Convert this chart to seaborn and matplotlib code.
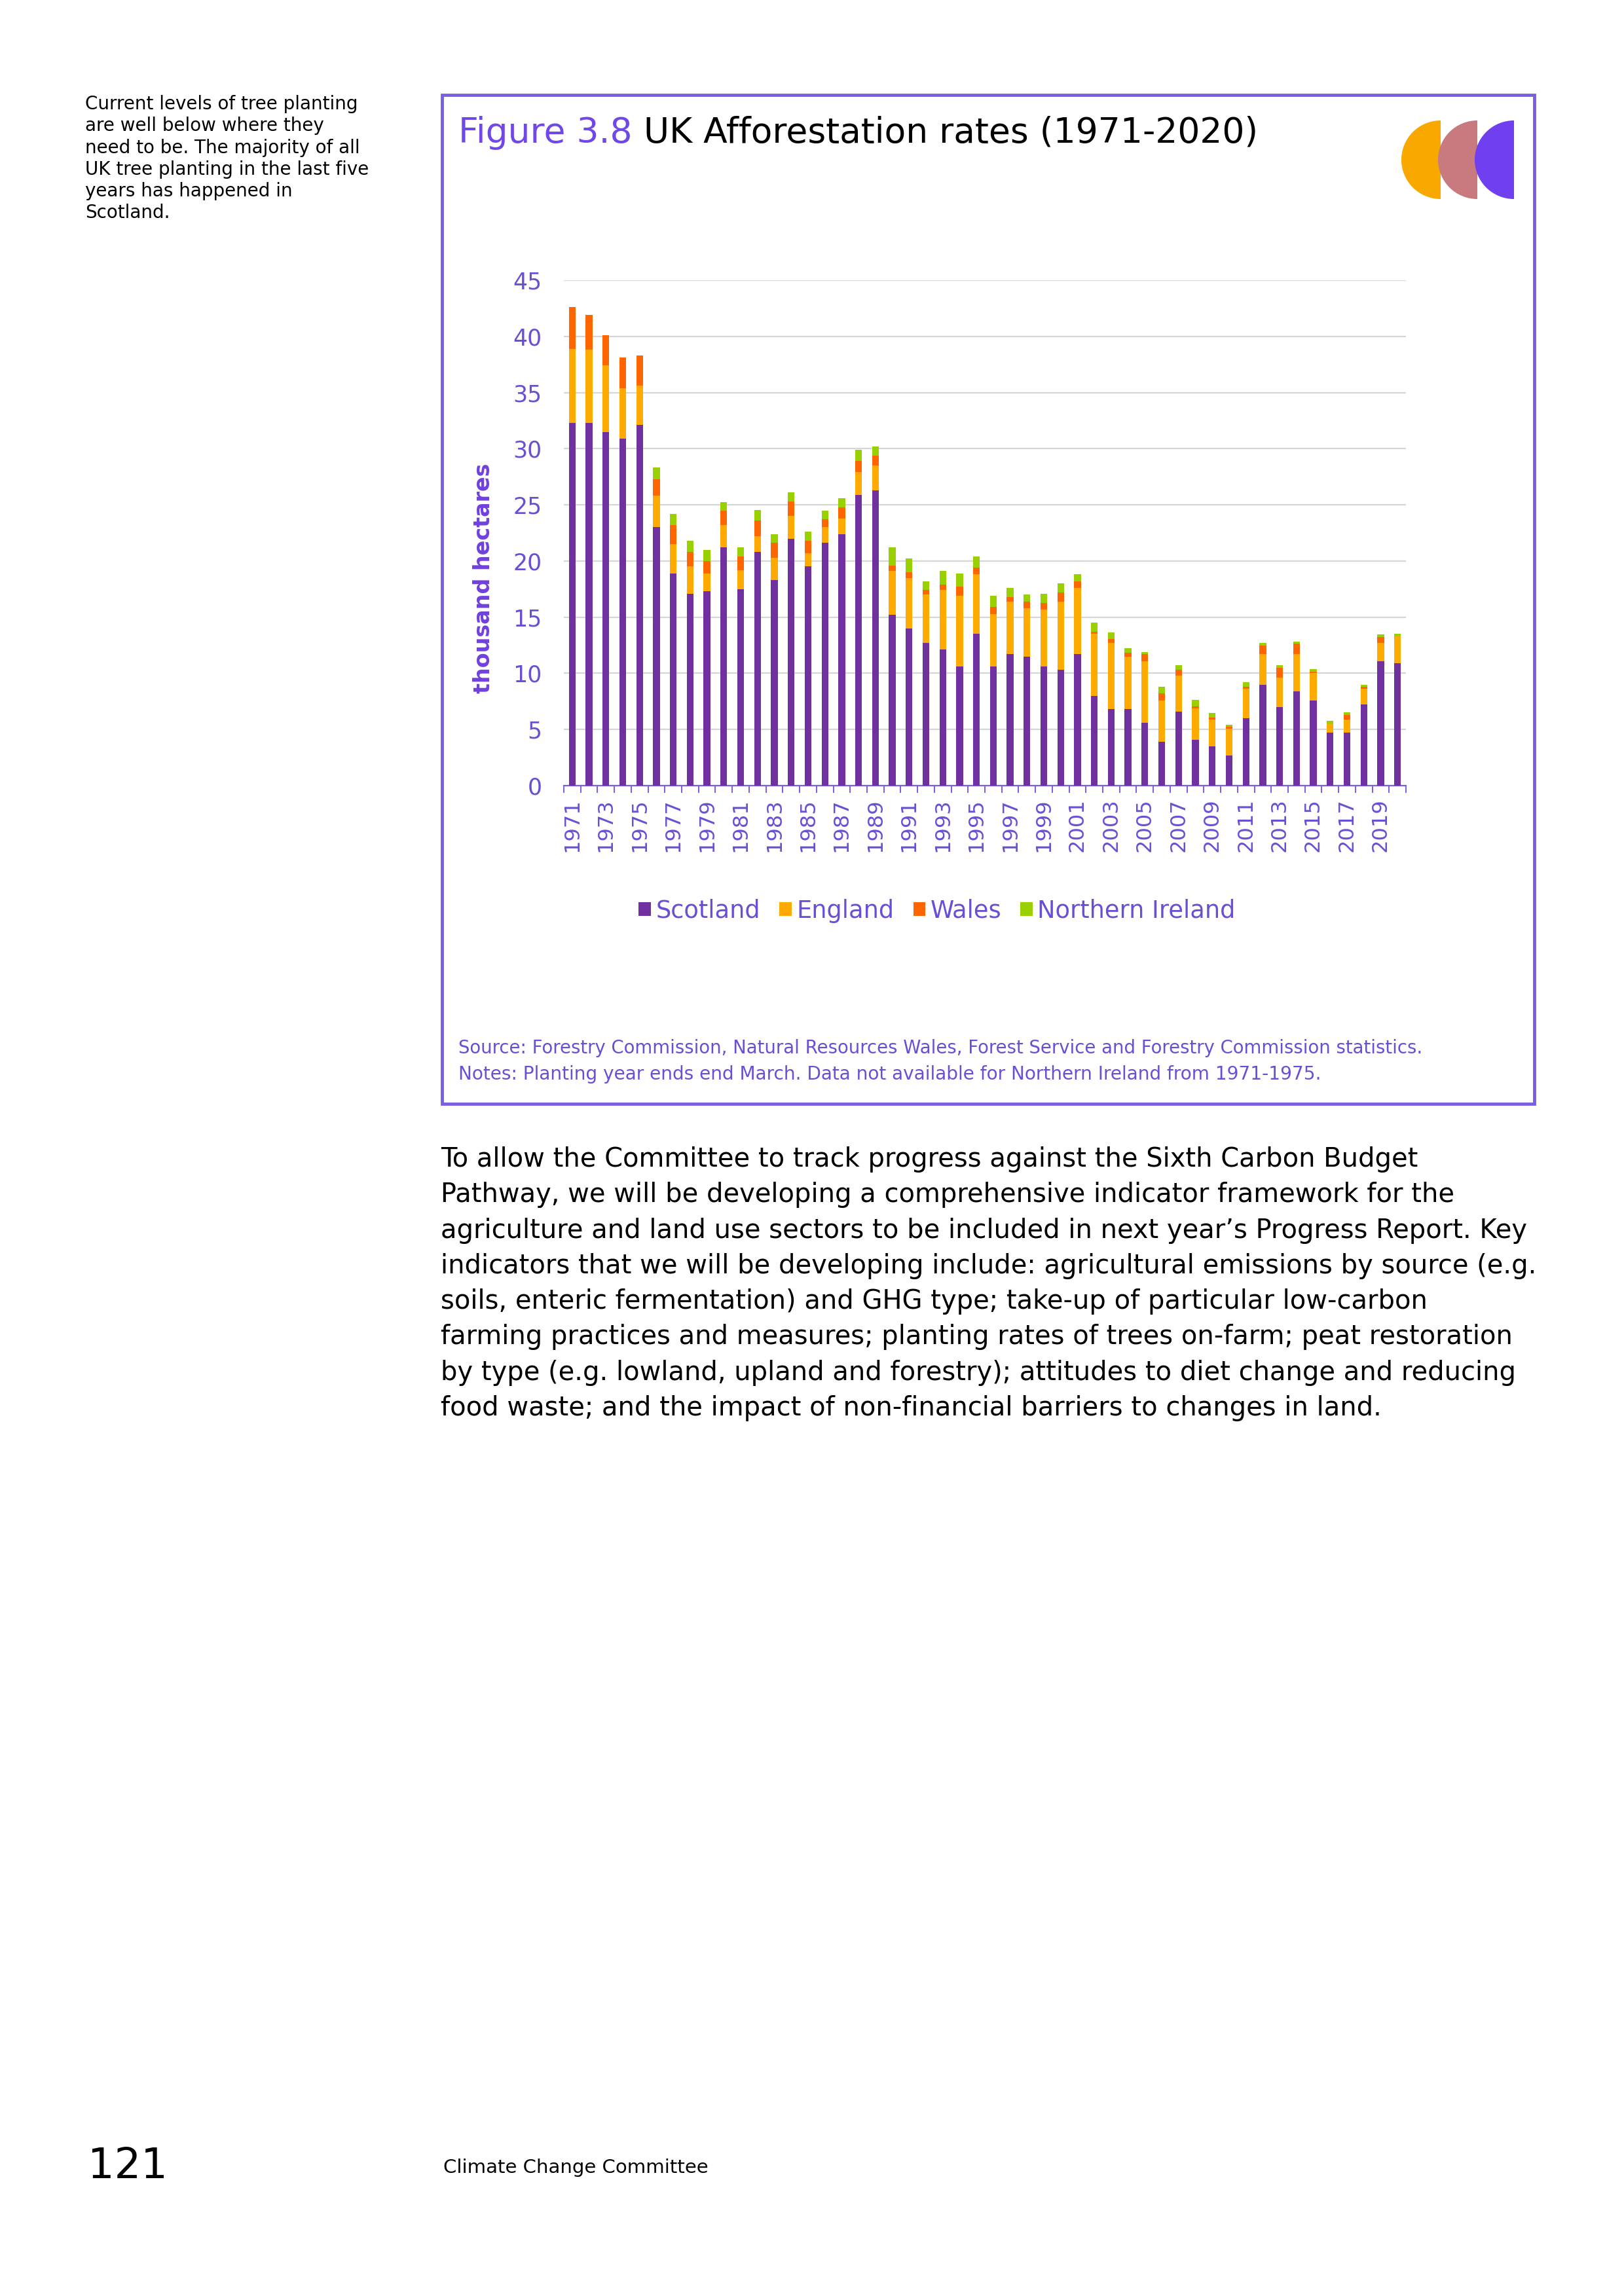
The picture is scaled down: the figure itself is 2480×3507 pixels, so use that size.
import matplotlib
matplotlib.use("Agg")
import matplotlib.pyplot as plt
from matplotlib.patches import Rectangle, Wedge, Patch
import seaborn as sns
import pandas as pd
import numpy as np

# ---------------- data ----------------
years = list(range(1971, 2021))
scotland = [32.3, 32.3, 31.5, 30.9, 32.1, 23.0, 18.9, 17.1, 17.3, 21.2,
            17.5, 20.8, 18.3, 22.0, 19.5, 21.6, 22.4, 25.9, 26.3, 15.2,
            14.0, 12.7, 12.1, 10.6, 13.5, 10.6, 11.7, 11.5, 10.6, 10.3,
            11.7, 8.0, 6.8, 6.8, 5.6, 3.9, 6.6, 4.1, 3.5, 2.7,
            6.0, 9.0, 7.0, 8.4, 7.6, 4.7, 4.7, 7.2, 11.1, 10.9]
england = [6.6, 6.5, 5.9, 4.5, 3.5, 2.8, 2.6, 2.4, 1.6, 2.0,
           1.7, 1.4, 2.0, 2.0, 1.2, 1.4, 1.4, 2.0, 2.2, 3.9,
           4.5, 4.3, 5.3, 6.3, 5.3, 4.7, 4.7, 4.3, 5.1, 6.1,
           5.9, 5.5, 5.9, 4.7, 5.5, 3.7, 3.2, 2.8, 2.4, 2.4,
           2.6, 2.7, 2.6, 3.3, 2.4, 0.8, 1.2, 1.4, 1.6, 2.4]
wales = [3.7, 3.1, 2.7, 2.7, 2.7, 1.5, 1.7, 1.3, 1.1, 1.3,
         1.2, 1.4, 1.3, 1.3, 1.1, 0.7, 1.0, 1.0, 0.9, 0.5,
         0.5, 0.4, 0.5, 0.8, 0.6, 0.6, 0.4, 0.6, 0.55, 0.8,
         0.6, 0.2, 0.35, 0.35, 0.6, 0.6, 0.5, 0.15, 0.15, 0.15,
         0.2, 0.8, 0.9, 0.95, 0.15, 0.0, 0.4, 0.2, 0.55, 0.0]
n_ireland = [0.0, 0.0, 0.0, 0.0, 0.0, 1.0, 1.0, 1.0, 1.0, 0.75,
             0.8, 0.95, 0.8, 0.8, 0.8, 0.8, 0.8, 1.0, 0.8, 1.6,
             1.2, 0.8, 1.2, 1.2, 1.0, 1.0, 0.8, 0.6, 0.8, 0.8,
             0.6, 0.8, 0.6, 0.4, 0.2, 0.6, 0.45, 0.6, 0.4, 0.2,
             0.4, 0.2, 0.2, 0.2, 0.2, 0.25, 0.2, 0.2, 0.2, 0.2]
series_names = ["Scotland", "England", "Wales", "Northern Ireland"]
series_colors = ["#7030A0", "#FFAA00", "#FF6600", "#99D000"]
y_ticks = [0, 5, 10, 15, 20, 25, 30, 35, 40, 45]

# ---------------- styling ----------------
PURPLE_TXT = "#6A4FD6"
FRAME = "#7B5FE0"
sns.set_theme(style="white")
plt.rcParams["font.family"] = ["DejaVu Sans"]

W, H = 2480, 3507
fig = plt.figure(figsize=(W / 100, H / 100), dpi=100)

# page overlay in pixel coordinates
page = fig.add_axes([0, 0, 1, 1], zorder=0)
page.set_xlim(0, W)
page.set_ylim(H, 0)
page.axis("off")
page.patch.set_alpha(0)

# chart frame
page.add_patch(Rectangle((675, 145), 2343 - 675, 1686 - 145, fill=False,
                         edgecolor=FRAME, linewidth=3.5))

# logo: three left half-discs
for cx, col in zip([2200, 2256, 2312], ["#F9A800", "#C87A7E", "#7040F0"]):
    page.add_patch(Wedge((cx, 244), 60, 90, 270, facecolor=col, edgecolor="none"))

# title
t1 = page.text(700, 218, "Figure 3.8", fontsize=38.5, color="#7048E8",
               ha="left", va="baseline")
page.annotate(" UK Afforestation rates (1971-2020)", xy=(1, 0), xycoords=t1,
              fontsize=38.5, color="black", ha="left", va="bottom")

# sidebar text
page.text(130, 145, "Current levels of tree planting\nare well below where they\n"
          "need to be. The majority of all\nUK tree planting in the last five\n"
          "years has happened in\nScotland.", fontsize=20, color="black",
          ha="left", va="top", linespacing=1.24)

# ---------------- chart ----------------
ax = fig.add_axes([861 / W, 1 - 1200 / H, (2147 - 861) / W, (1200 - 428) / H], zorder=2)
df = pd.DataFrame({"year": [str(y) for y in years],
                   "Scotland": scotland, "England": england,
                   "Wales": wales, "Northern Ireland": n_ireland})
cum = df[series_names].cumsum(axis=1)
order = [str(y) for y in years]
for name, col in reversed(list(zip(series_names, series_colors))):
    sns.barplot(x=df["year"], y=cum[name], order=order, color=col, width=0.4,
                saturation=1, ax=ax, zorder=3, linewidth=0)

ax.set_xlim(-0.5, len(years) - 0.5)
ax.set_ylim(0, 45)
ax.set_yticks(y_ticks)
ax.set_yticklabels([str(v) for v in y_ticks])
ax.yaxis.grid(True, color="#D6D6D6", linewidth=1.6, zorder=0)
ax.xaxis.grid(False)
ax.set_axisbelow(True)
for s in ["top", "right", "left"]:
    ax.spines[s].set_visible(False)
ax.spines["bottom"].set_color(FRAME)
ax.spines["bottom"].set_linewidth(1.6)

ax.set_xticks(range(0, len(years), 2))
ax.set_xticklabels([str(y) for y in years[::2]], rotation=90)
ax.set_xticks(np.arange(-0.5, len(years), 1.0), minor=True)
ax.tick_params(axis="x", which="major", length=0, pad=14, labelsize=23,
               labelcolor=PURPLE_TXT)
ax.tick_params(axis="x", which="minor", length=8, width=1.4, color=FRAME,
               bottom=True)
ax.tick_params(axis="y", length=0, pad=24, labelsize=25, labelcolor=PURPLE_TXT)
ax.set_xlabel("")
ax.set_ylabel("")

page.text(738, 883, "thousand hectares", rotation=90, fontsize=24,
          fontweight="bold", color="#7040E0", ha="center", va="center")

handles = [Patch(facecolor=c, edgecolor="none", label=n)
           for n, c in zip(series_names, series_colors)]
leg = fig.legend(handles=handles, loc="center",
                 bbox_to_anchor=(1431 / W, 1 - 1391 / H), ncol=4, frameon=False,
                 fontsize=26.5, handlelength=0.5, handleheight=0.5,
                 handletextpad=0.2, columnspacing=0.8)
for t in leg.get_texts():
    t.set_color(PURPLE_TXT)

# source / notes
page.text(700, 1601, "Source: Forestry Commission, Natural Resources Wales, Forest Service "
          "and Forestry Commission statistics.", fontsize=19.8, color=PURPLE_TXT,
          ha="left", va="center")
page.text(700, 1641, "Notes: Planting year ends end March. Data not available for "
          "Northern Ireland from 1971-1975.", fontsize=20.2, color=PURPLE_TXT,
          ha="left", va="center")

# body text
body = [
    "To allow the Committee to track progress against the Sixth Carbon Budget",
    "Pathway, we will be developing a comprehensive indicator framework for the",
    "agriculture and land use sectors to be included in next year\u2019s Progress Report. Key",
    "indicators that we will be developing include: agricultural emissions by source (e.g.",
    "soils, enteric fermentation) and GHG type; take-up of particular low-carbon",
    "farming practices and measures; planting rates of trees on-farm; peat restoration",
    "by type (e.g. lowland, upland and forestry); attitudes to diet change and reducing",
    "food waste; and the impact of non-financial barriers to changes in land.",
]
for i, line in enumerate(body):
    page.text(673, 1771 + i * 54.3, line, fontsize=28.8, color="black",
              ha="left", va="center")

# footer
page.text(134, 3309, "121", fontsize=46, color="black", ha="left", va="center")
page.text(677, 3311, "Climate Change Committee", fontsize=21, color="black",
          ha="left", va="center")

fig.savefig("out.png", dpi=100)
